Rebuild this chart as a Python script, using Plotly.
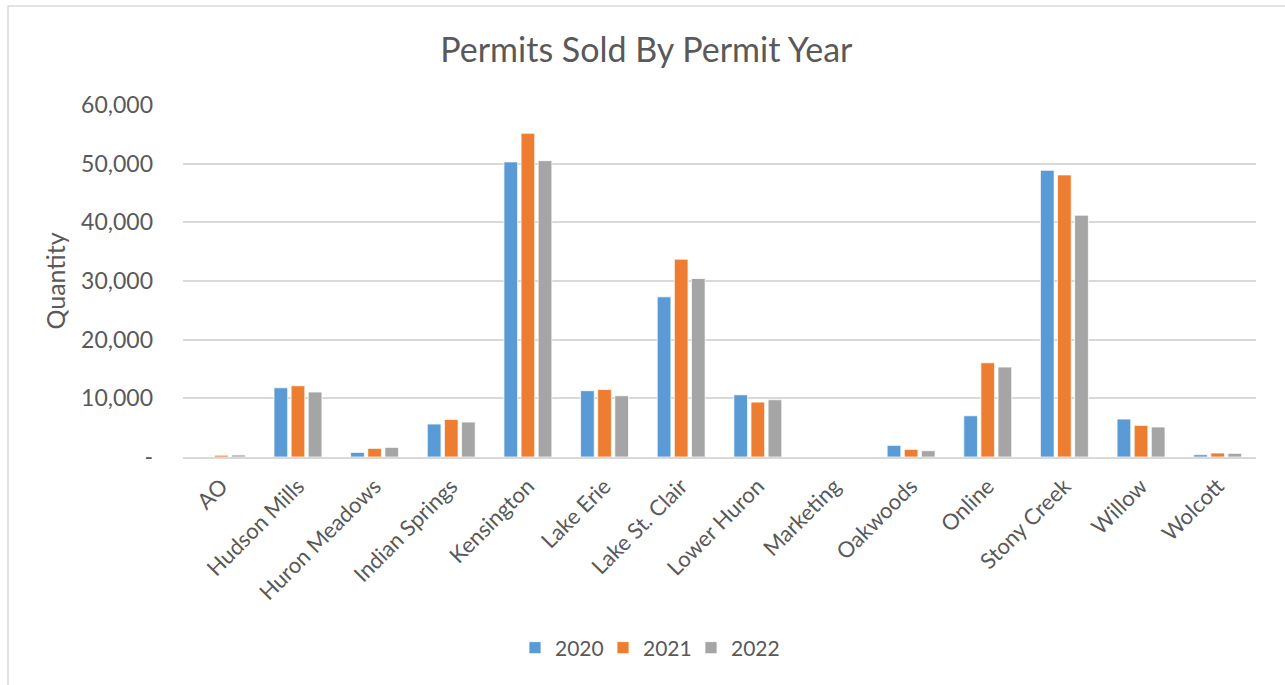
import plotly.graph_objects as go

# Permit sales per park, by permit year
parks = ["AO", "Hudson Mills", "Huron Meadows", "Indian Springs", "Kensington",
         "Lake Erie", "Lake St. Clair", "Lower Huron", "Marketing", "Oakwoods",
         "Online", "Stony Creek", "Willow", "Wolcott"]
sold_2020 = [0, 11800, 780, 5620, 50300, 11300, 27300, 10600, 0, 1980, 7030, 48870, 6470, 390]
sold_2021 = [300, 12140, 1470, 6400, 55180, 11510, 33720, 9360, 0, 1300, 16060, 48080, 5390, 680]
sold_2022 = [350, 11070, 1640, 5960, 50510, 10440, 30420, 9760, 0, 1070, 15330, 41210, 5110, 620]

years = ["2020", "2021", "2022"]
series = [sold_2020, sold_2021, sold_2022]
colors = ["#5B9BD5", "#ED7D31", "#A5A5A5"]

y_ticks = [0, 10000, 20000, 30000, 40000, 50000, 60000]
y_tick_text = ["-", "10,000", "20,000", "30,000", "40,000", "50,000", "60,000"]

FONT = "Lato"
TEXT = "#595959"
GRID = "#D9D9D9"

fig = go.Figure()
for year, vals, col in zip(years, series, colors):
    fig.add_trace(go.Bar(
        name=year, x=parks, y=vals,
        marker=dict(color=col, line=dict(color="white", width=0.75)),
    ))

fig.update_layout(
    width=1285, height=685,
    margin=dict(l=183, r=29, t=105, b=228),
    paper_bgcolor="white", plot_bgcolor="white",
    font=dict(family=FONT, color=TEXT, size=21),
    title=dict(text="Permits Sold By Permit Year", x=0.503, xref="container",
               xanchor="center", y=1 - 50 / 685, yref="container", yanchor="middle",
               font=dict(size=34, color=TEXT, family=FONT)),
    barmode="group", bargap=0.33, bargroupgap=0.2,
    showlegend=True,
    legend=dict(orientation="h", xref="container", yref="container",
                x=0.5035, xanchor="center", y=1 - 648 / 685, yanchor="middle",
                font=dict(size=21, color=TEXT), entrywidth=43, entrywidthmode="pixels",
                traceorder="normal"),
    shapes=[dict(type="rect", xref="paper", yref="paper",
                 x0=-175 / 1073, x1=1.1, y0=-1.0, y1=1 + 99 / 352,
                 line=dict(color=GRID, width=1.5), fillcolor="rgba(0,0,0,0)",
                 layer="below")],
)

fig.update_xaxes(
    type="category", tickangle=-45, showgrid=False,
    showline=True, linecolor=GRID, linewidth=1.5,
    ticks="", tickfont=dict(size=22, color=TEXT), ticklabelstandoff=6,
)
fig.update_yaxes(
    range=[0, 60000], tickvals=y_ticks, ticktext=y_tick_text,
    showgrid=True, gridcolor=GRID, gridwidth=1.5,
    zeroline=False, showline=False, ticks="",
    ticklabelstandoff=29, tickfont=dict(size=23, color=TEXT),
    title=dict(text="Quantity", standoff=8, font=dict(size=25, color=TEXT)),
)

fig.write_html("out.html")
